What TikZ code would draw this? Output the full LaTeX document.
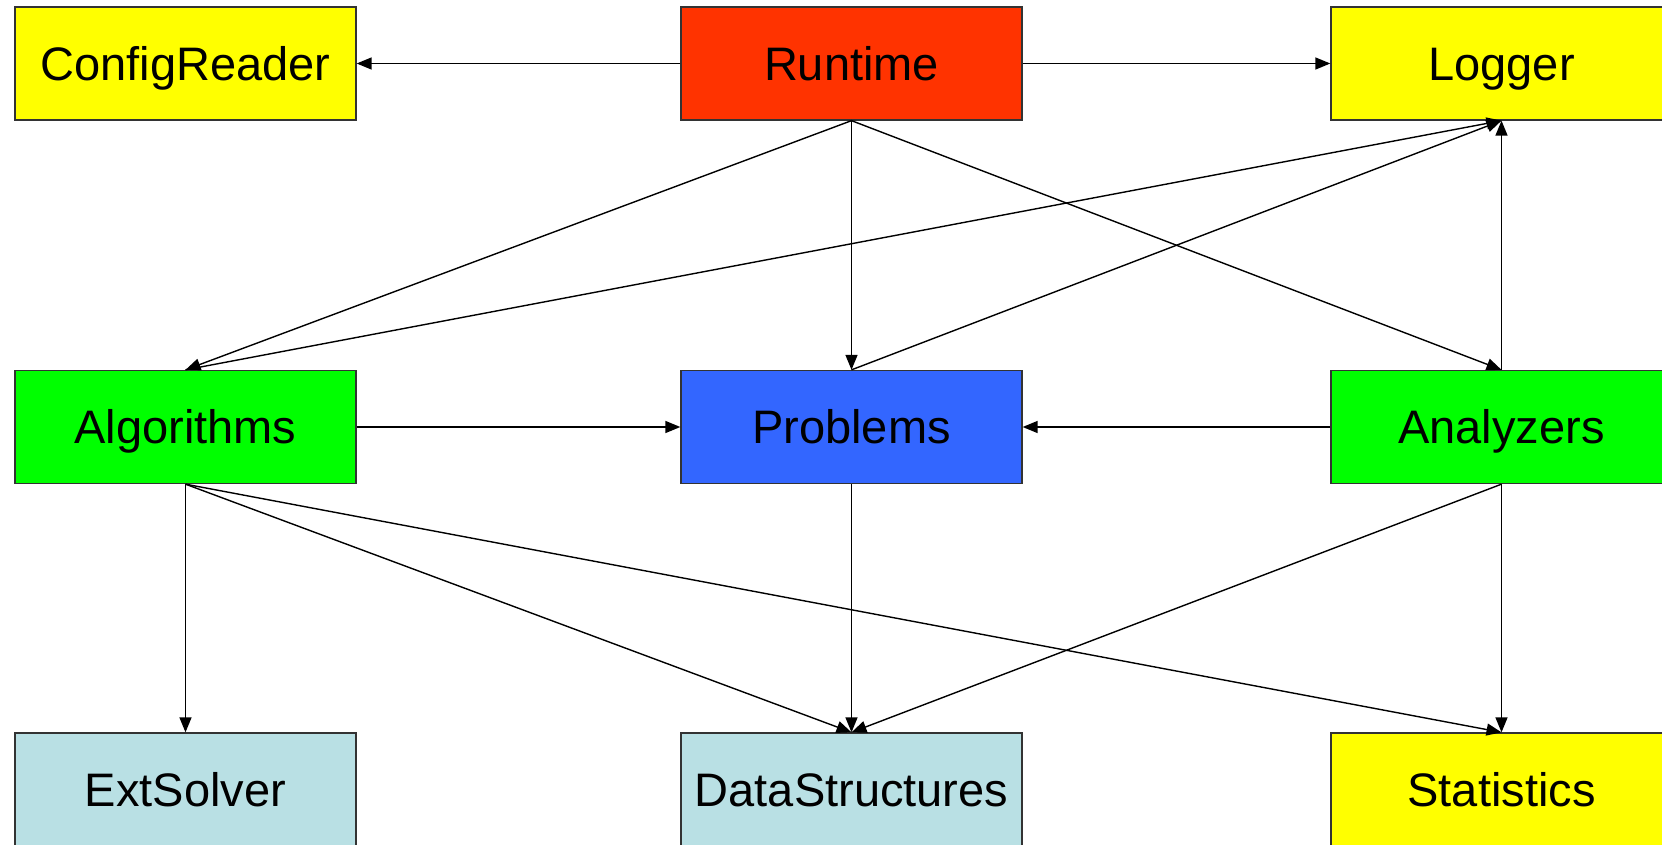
\documentclass[tikz,border=0pt]{standalone}
\usepackage{fontspec}
\setmainfont{Liberation Sans}
\usetikzlibrary{arrows.meta}
\definecolor{cyellow}{HTML}{FFFF00}
\definecolor{cred}{HTML}{FF3300}
\definecolor{cgreen}{HTML}{00FF00}
\definecolor{cblue}{HTML}{3366FF}
\definecolor{clight}{HTML}{B9E0E4}
\definecolor{cborder}{HTML}{333333}
\tikzset{
  module/.style={draw=cborder, line width=1.3pt, minimum width=341pt, minimum height=113pt,
    inner sep=0pt, text height=33.7pt, text depth=0pt,
    font=\fontsize{47}{50}\selectfont},
  dep/.style={line width=1.4pt, -{Triangle[length=15pt,width=12pt]}}
}
\begin{document}
\begin{tikzpicture}[x=1pt,y=1pt]
\useasboundingbox (0,0) rectangle (1662,-845);
\fill[white] (0,0) rectangle (1662,-845);
\clip (0,0) rectangle (1662,-845);
% top row
\node[module, fill=cyellow] (cr) at (185.5,-63.5) {ConfigReader};
\node[module, fill=cred]    (rt) at (851.5,-63.5) {Runtime};
\node[module, fill=cyellow] (lg) at (1501.5,-63.5) {Logger};
% middle row
\node[module, fill=cgreen]  (al) at (185.5,-427) {Algorithms};
\node[module, fill=cblue]   (pr) at (851.5,-427) {Problems};
\node[module, fill=cgreen]  (an) at (1501.5,-427) {Analyzers};
% bottom row
\node[module, fill=clight]  (ex) at (185.5,-789.5) {ExtSolver};
\node[module, fill=clight]  (ds) at (851.5,-789.5) {DataStructures};
\node[module, fill=cyellow] (st) at (1501.5,-789.5) {Statistics};
% dependencies
\draw[dep] (rt.west) -- (cr.east);
\draw[dep] (rt.east) -- (lg.west);
\draw[dep] (rt.south) -- (al.north);
\draw[dep] (rt.south) -- (pr.north);
\draw[dep] (rt.south) -- (an.north);
\draw[dep] (al.north) -- (lg.south);
\draw[dep] (pr.north) -- (lg.south);
\draw[dep] (an.north) -- (lg.south);
\draw[dep] (al.east) -- (pr.west);
\draw[dep] (an.west) -- (pr.east);
\draw[dep] (al.south) -- (ex.north);
\draw[dep] (al.south) -- (ds.north);
\draw[dep] (al.south) -- (st.north);
\draw[dep] (pr.south) -- (ds.north);
\draw[dep] (an.south) -- (ds.north);
\draw[dep] (an.south) -- (st.north);
\end{tikzpicture}
\end{document}
